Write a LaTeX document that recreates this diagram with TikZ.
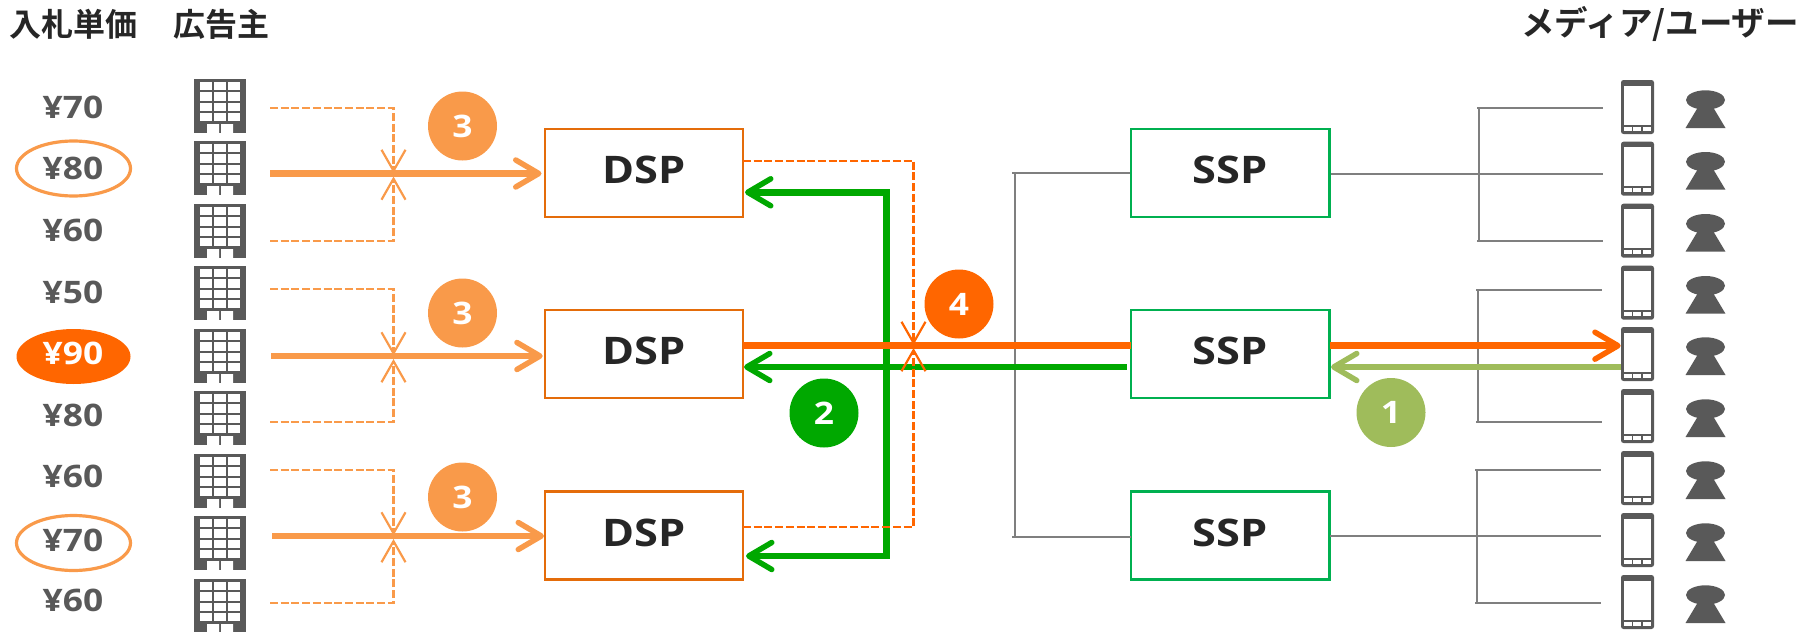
\documentclass[tikz,border=0pt]{standalone}
\usepackage{fontspec}
\usetikzlibrary{arrows.meta,shapes.geometric}
\newfontfamily\jpfont{Noto Sans CJK JP}[UprightFont={Noto Sans CJK JP Bold}]
\newfontfamily\latfont{Open Sans}[FakeStretch=1.14]
\definecolor{lorange}{HTML}{F99A4A}
\definecolor{dorange}{HTML}{FF6600}
\definecolor{boxorange}{HTML}{E46C0A}
\definecolor{mgreen}{HTML}{00A800}
\definecolor{lgreen}{HTML}{9FBC5B}
\definecolor{boxgreen}{HTML}{00B050}
\definecolor{icongray}{HTML}{595959}
\definecolor{linegray}{HTML}{7F7F7F}
\definecolor{headdark}{HTML}{262626}
\tikzset{
  x=1pt,y=-1pt,
  header/.style={font=\jpfont\fontsize{32}{32}\selectfont,text=headdark,inner sep=0pt},
  price/.style={font=\latfont\bfseries\fontsize{31}{31}\selectfont,text=icongray,inner sep=0pt},
  ring/.style={draw=lorange,line width=3.2pt,ellipse,fill=none,minimum width=114pt,minimum height=55pt,inner sep=0pt},
  ringfull/.style={fill=dorange,ellipse,minimum width=114pt,minimum height=55pt,inner sep=0pt},
  boxbase/.style={font=\latfont\bfseries\fontsize{38}{38}\selectfont,text=headdark,line width=2.4pt,minimum height=88pt,inner sep=0pt,text height=21.4pt,text depth=0pt},
  dspbox/.style={boxbase,draw=boxorange,minimum width=198pt},
  sspbox/.style={boxbase,draw=boxgreen,minimum width=198.5pt},
  badge/.style={circle,minimum size=69pt,inner sep=0pt,text=white,font=\latfont\bfseries\fontsize{31}{31}\selectfont},
  thin gray/.style={draw=linegray,line width=2pt},
  fat/.style={line width=6.5pt},
  bighead/.style={-{Straight Barb[length=23pt,width=27pt,line width=5.5pt,round]}},
  smallhead/.style={-{Straight Barb[length=21pt,width=24pt,line width=2.2pt]}},
  dashline/.style={line width=2.4pt,dash pattern=on 8pt off 2.7pt},
  building/.pic={
    \fill[icongray] (0,0) rectangle (52,54);
    \fill[white] (13,45) rectangle (25,54) (27,45) rectangle (39,54);
    \foreach \a/\b in {3/11,13/22,24/32,34/42}
      \foreach \c/\d in {6/18,20/32,34/46}
        \fill[white] (\c,\a) rectangle (\d,\b);
  },
  phone/.pic={
    \fill[icongray,rounded corners=2.5pt] (0,0) rectangle (33,54);
    \fill[white] (2.7,5.5) rectangle (30,44.7);
    \foreach \c/\d in {3.3/11.3,12.3/20.3,21.7/29.7}
      \fill[white] (\c,46.7) rectangle (\d,50.7);
  },
  person/.pic={
    \fill[icongray] (-20,48) -- (0,14.7) -- (20,48) -- cycle;
    \fill[icongray] (0,20) ellipse [x radius=19.5pt,y radius=9.7pt];
  },
}
\begin{document}
\begin{tikzpicture}
\useasboundingbox (0,0) rectangle (1808,632);
% headers
\node[header] (h1) at (73.5,24) {入札単価};
\node[header] (h2) at (221,24) {広告主};
\node[header,font=\jpfont\fontsize{33.5}{33.5}\selectfont] (h3) at (1660,24) {メディア/ユーザー};
% ring marks and prices
\node[ring] (r1) at (73.5,168.5) {};
\node[ringfull] (r2) at (73.5,356.5) {};
\node[ring] (r3) at (73.5,543) {};
\node[price] (p1) at (73,107) {¥70};
\node[price] (p2) at (73,168) {¥80};
\node[price] (p3) at (73,230) {¥60};
\node[price] (p4) at (73,292.5) {¥50};
\node[price,text=white] (p5) at (73,353) {¥90};
\node[price] (p6) at (73,415.5) {¥80};
\node[price] (p7) at (73,476.5) {¥60};
\node[price] (p8) at (73,540) {¥70};
\node[price] (p9) at (73,600) {¥60};
% icons
\foreach \t in {79,141,204,266,329,391,454,516,579}
  \pic at (194,\t) {building};
\foreach \t in {80,141.7,203.7,265.7,327,389,451,513,575}{
  \pic at (1621,\t) {phone};
  \pic at (1705.5,\t) {person};
}
% boxes
\node[dspbox] (dsp1) at (644,173) {DSP};
\node[dspbox] (dsp2) at (644,354) {DSP};
\node[dspbox] (dsp3) at (644,535.5) {DSP};
\node[sspbox] (ssp1) at (1230.3,173) {SSP};
\node[sspbox] (ssp2) at (1230.3,354) {SSP};
\node[sspbox] (ssp3) at (1230.3,535.5) {SSP};
% free ends
\coordinate (la) at (1012,173);
\coordinate (lb) at (1014.6,173);
\coordinate (lc) at (1014.6,537);
\coordinate (ld) at (1012,537);
\coordinate (le) at (1131,537);
% gray trees
\draw[thin gray] (ssp1.west) -- (la);
\draw[thin gray] (lb) -- (lc);
\draw[thin gray] (ld) -- (le);
\coordinate (a0) at (1477,108); \coordinate (a1) at (1603,108);
\coordinate (a2) at (1477,240.7); \coordinate (a3) at (1603,240.7);
\coordinate (a4) at (1479.3,108); \coordinate (a5) at (1479.3,240.7);
\coordinate (a6) at (1603,173.7); \coordinate (a7) at (1330.7,173.7);
\draw[thin gray] (a0) -- (a1);
\draw[thin gray] (a2) -- (a3);
\draw[thin gray] (a4) -- (a5);
\draw[thin gray] (a7) -- (a6);
\coordinate (b0) at (1476,290); \coordinate (b1) at (1602,290);
\coordinate (b2) at (1476,422.3); \coordinate (b3) at (1602,422.3);
\coordinate (b4) at (1478,290); \coordinate (b5) at (1478,422.3);
\draw[thin gray] (b0) -- (b1);
\draw[thin gray] (b2) -- (b3);
\draw[thin gray] (b4) -- (b5);
\coordinate (c0) at (1475,470); \coordinate (c1) at (1601,470);
\coordinate (c2) at (1475,603); \coordinate (c3) at (1601,603);
\coordinate (c4) at (1477,470); \coordinate (c5) at (1477,603);
\coordinate (c6) at (1601,536); \coordinate (c7) at (1330,536);
\draw[thin gray] (c0) -- (c1);
\draw[thin gray] (c2) -- (c3);
\draw[thin gray] (c4) -- (c5);
\draw[thin gray] (c7) -- (c6);
% bidder dashed lines and solid bids
\foreach \n/\t/\m/\b/\s/\e in {1/108/173.5/241/270/541.5,2/289/356/422/271/542.7,3/470/536/603/272/544}{
  \coordinate (s\n) at (270,\t);
  \coordinate (t\n) at (393.5,\t);
  \coordinate (u\n) at (393.5,\m-0.5);
  \coordinate (v\n) at (393.5,\m+3);
  \coordinate (w\n) at (393.5,\b);
  \coordinate (x\n) at (270,\b);
  \coordinate (y\n) at (\s,\m);
  \coordinate (z\n) at (\e,\m);
  \draw[lorange,dashline,smallhead] (s\n) -- (t\n) -- (u\n);
  \draw[lorange,dashline,smallhead] (x\n) -- (w\n) -- (v\n);
  \draw[lorange,fat,bighead] (y\n) -- (z\n);
}
% green responses
\coordinate (g0) at (886.4,192.3);
\coordinate (g1) at (886.4,556);
\coordinate (g2) at (745,192.3);
\coordinate (g3) at (746,556);
\coordinate (g4) at (1126.7,367);
\coordinate (g5) at (744,367);
\coordinate (g6) at (886.4,189.3);
\coordinate (g7) at (886.4,559);
\draw[mgreen,fat,bighead] (g0) -- (g2);
\draw[mgreen,fat,bighead] (g1) -- (g3);
\draw[mgreen,fat] (g6) -- (g7);
\draw[mgreen,fat,bighead] (g4) -- (g5);
% winning bid
\coordinate (o0) at (743,345.7);
\coordinate (o1) at (1131,345.7);
\coordinate (o2) at (1330,345.7);
\coordinate (o3) at (1620.7,345.7);
\draw[dorange,fat] (o0) -- (o1);
\draw[dorange,fat,bighead] (o2) -- (o3);
\coordinate (l0) at (1621,367);
\coordinate (l1) at (1331,367);
\draw[lgreen,fat,bighead] (l0) -- (l1);
% dashed from DSPs
\coordinate (e0) at (743,161);
\coordinate (e1) at (913.5,161);
\coordinate (e2) at (913.5,345);
\coordinate (e3) at (743,527);
\coordinate (e4) at (913.5,527);
\coordinate (e5) at (913.5,348);
\draw[dorange,dashline,smallhead] (e0) -- (e1) -- (e2);
\draw[dorange,dashline,smallhead] (e3) -- (e4) -- (e5);
% badges
\node[badge,fill=lorange] (n3a) at (462.5,126) {3};
\node[badge,fill=lorange] (n3b) at (462.5,313) {3};
\node[badge,fill=lorange] (n3c) at (462.5,497) {3};
\node[badge,fill=dorange] (n4) at (959,304) {4};
\node[badge,fill=mgreen] (n2) at (824,413) {2};
\node[badge,fill=lgreen] (n1) at (1391,412.5) {1};
\end{tikzpicture}
\end{document}
